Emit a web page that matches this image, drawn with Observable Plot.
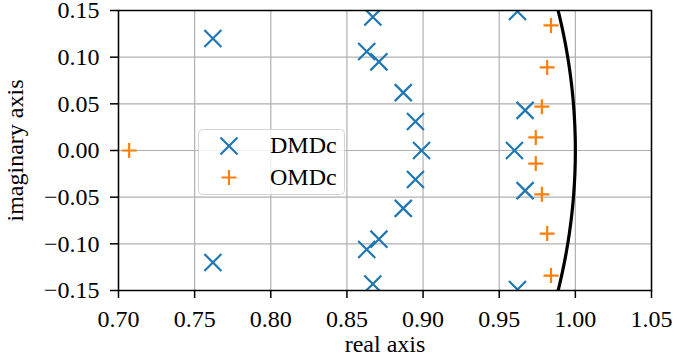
<!DOCTYPE html>
<html>
<head>
<meta charset="utf-8">
<script src="https://cdn.jsdelivr.net/npm/d3@7"></script>
<script src="https://cdn.jsdelivr.net/npm/@observablehq/plot@0.6"></script>
<style>
  body { margin: 0; background: #fff; }
  #wrap { position: relative; width: 680px; height: 358px; }
  #wrap svg text { font-family: "Liberation Serif", "DejaVu Serif", serif; }
  #legend { position: absolute; left: 0; top: 0; pointer-events: none; }
</style>
</head>
<body>
<div id="wrap"></div>
<script>
// DMDc eigenvalues (real, imaginary)
const dmdcReal = [0.762, 0.762, 0.867, 0.863, 0.871, 0.887, 0.895, 0.899, 0.895, 0.887, 0.871, 0.863, 0.867, 0.962, 0.967, 0.960, 0.967, 0.962];
const dmdcImag = [0.120, -0.120, 0.143, 0.106, 0.095, 0.062, 0.031, 0.000, -0.031, -0.062, -0.095, -0.106, -0.143, 0.149, 0.043, 0.000, -0.043, -0.149];
// OMDc eigenvalues
const omdcReal = [0.707, 0.984, 0.9815, 0.978, 0.974, 0.974, 0.978, 0.9815, 0.984];
const omdcImag = [0.000, 0.134, 0.089, 0.047, 0.014, -0.014, -0.047, -0.089, -0.134];
// axis ticks
const xTicks = [0.70, 0.75, 0.80, 0.85, 0.90, 0.95, 1.00, 1.05];
const yTicks = [-0.15, -0.10, -0.05, 0.00, 0.05, 0.10, 0.15];
// series names
const seriesNames = ["DMDc", "OMDc"];
// unit circle reference (angles in radians)
const circleAngles = d3.range(-0.2, 0.2001, 0.005);

const dmdc = dmdcReal.map((r, i) => ({re: r, im: dmdcImag[i]}));
const omdc = omdcReal.map((r, i) => ({re: r, im: omdcImag[i]}));
const circle = circleAngles.map(t => ({re: Math.cos(t), im: Math.sin(t)}));
const fmt = d => d.toFixed(2).replace("-", "\u2212");

const blue = "#1f77b4", orange = "#ff7f0e";
const FS = 24;
const rTimes = 7.8, rPlus = 4.9;

const plot = Plot.plot({
  width: 680, height: 358,
  marginLeft: 118, marginRight: 29, marginTop: 10, marginBottom: 68,
  style: {fontFamily: "'Liberation Serif', 'DejaVu Serif', serif", fontSize: FS + "px", color: "black", background: "white", overflow: "visible"},
  x: {domain: [0.70, 1.05]},
  y: {domain: [-0.15, 0.15]},
  marks: [
    Plot.gridX(xTicks, {stroke: "#b0b0b0", strokeOpacity: 1, strokeWidth: 1.2}),
    Plot.gridY(yTicks, {stroke: "#b0b0b0", strokeOpacity: 1, strokeWidth: 1.2}),
    Plot.axisX({ticks: xTicks, tickFormat: fmt, tickSize: 8, tickPadding: 11, strokeWidth: 1.5, label: null, fontSize: FS}),
    Plot.axisY({ticks: yTicks, tickFormat: fmt, tickSize: 8, tickPadding: 11, strokeWidth: 1.5, label: null, fontSize: FS}),
    Plot.line(circle, {x: "re", y: "im", stroke: "black", strokeWidth: 3.2, clip: true}),
    Plot.dot(dmdc, {x: "re", y: "im", symbol: "times", r: rTimes, stroke: blue, strokeWidth: 2.2, clip: true}),
    Plot.dot(omdc, {x: "re", y: "im", symbol: "plus", r: rPlus, stroke: orange, strokeWidth: 2.2, clip: true}),
    Plot.frame({stroke: "black", strokeWidth: 1.5}),
    Plot.text(["real axis"], {frameAnchor: "bottom", dy: 54, textAnchor: "middle", lineAnchor: "middle", fontSize: FS, fill: "black"}),
    Plot.text(["imaginary axis"], {frameAnchor: "left", dx: -103, rotate: -90, textAnchor: "middle", lineAnchor: "middle", fontSize: FS, fill: "black"})
  ]
});

const wrap = document.getElementById("wrap");
wrap.appendChild(plot);

// legend overlay
const lg = d3.select(wrap).append("svg").attr("id", "legend").attr("width", 680).attr("height", 358);
lg.append("rect").attr("x", 198.5).attr("y", 129.5).attr("width", 146).attr("height", 65).attr("rx", 4)
  .attr("fill", "white").attr("fill-opacity", 0.8).attr("stroke", "#d4d4d4").attr("stroke-width", 1);
const entries = [
  {name: seriesNames[0], sym: d3.symbolTimes, r: rTimes, color: blue, cy: 146, base: 153},
  {name: seriesNames[1], sym: d3.symbolPlus, r: rPlus, color: orange, cy: 177.5, base: 184.5}
];
for (const e of entries) {
  lg.append("path").attr("d", d3.symbol(e.sym, e.r * e.r * Math.PI)()).attr("transform", `translate(229,${e.cy})`)
    .attr("fill", "none").attr("stroke", e.color).attr("stroke-width", 2.2);
  lg.append("text").attr("x", 270).attr("y", e.base).attr("font-size", FS).attr("fill", "black").text(e.name);
}
</script>
</body>
</html>
